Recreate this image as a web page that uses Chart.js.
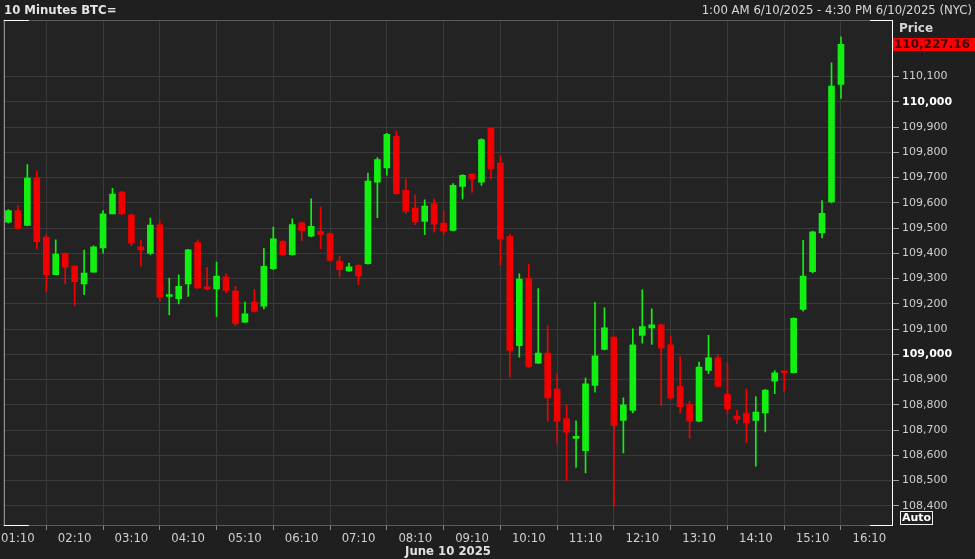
<!DOCTYPE html>
<html>
<head>
<meta charset="utf-8">
<title>10 Minutes BTC=</title>
<script src="https://cdn.jsdelivr.net/npm/chart.js@4.4.1/dist/chart.umd.min.js"></script>
<style>
  html, body { margin: 0; padding: 0; background: #1f1f1f; }
  #wrap { position: relative; width: 975px; height: 559px; overflow: hidden; }
  #chart { position: absolute; left: 0; top: 0; }
  .txt { position: absolute; white-space: nowrap; font-family: 'Liberation Sans Narrow', 'DejaVu Sans Condensed', sans-serif; font-stretch: condensed; }
  .sans { position: absolute; white-space: nowrap; font-family: 'DejaVu Sans', Verdana, sans-serif; }
  #hdrLeft { left: 4px; top: 2px; font-size: 13px; font-weight: bold; color: #e4e4e4; }
  #hdrRight { right: 3px; top: 2px; font-size: 13px; color: #d8d8d8; }
  #priceLbl { left: 899px; top: 21px; font-size: 12px; font-weight: bold; color: #d6d6d6; }
  #lastBadge { left: 893px; width: 82px; height: 13px; line-height: 13px; background: #ff0000; color: #3c0000; font-size: 12px; font-weight: bold; padding-left: 1px; box-sizing: border-box; }
  #autoBox { left: 900px; top: 511px; width: 33px; height: 14px; line-height: 12px; border: 1px solid #f0f0f0; box-sizing: border-box; color: #ffffff; font-size: 11px; font-weight: bold; text-align: center; }
  #dateLbl { left: 448px; top: 543px; transform: translateX(-50%); font-size: 13px; font-weight: bold; color: #e0e0e0; }
</style>
</head>
<body>
<div id="wrap">
  <canvas id="chart" width="975" height="559"></canvas>
  <div id="hdrLeft" class="txt">10 Minutes BTC=</div>
  <div id="hdrRight" class="txt">1:00 AM 6/10/2025 - 4:30 PM 6/10/2025 (NYC)</div>
  <div id="priceLbl" class="sans">Price</div>
  <div id="lastBadge" class="sans"></div>
  <div id="autoBox" class="sans">Auto</div>
  <div id="dateLbl" class="txt">June 10 2025</div>
</div>
<script>
// 10-minute candles, 6/10/2025
const timeLabels = [
  '01:00','01:10','01:20','01:30','01:40','01:50',
  '02:00','02:10','02:20','02:30','02:40','02:50',
  '03:00','03:10','03:20','03:30','03:40','03:50',
  '04:00','04:10','04:20','04:30','04:40','04:50',
  '05:00','05:10','05:20','05:30','05:40','05:50',
  '06:00','06:10','06:20','06:30','06:40','06:50',
  '07:00','07:10','07:20','07:30','07:40','07:50',
  '08:00','08:10','08:20','08:30','08:40','08:50',
  '09:00','09:10','09:20','09:30','09:40','09:50',
  '10:00','10:10','10:20','10:30','10:40','10:50',
  '11:00','11:10','11:20','11:30','11:40','11:50',
  '12:00','12:10','12:20','12:30','12:40','12:50',
  '13:00','13:10','13:20','13:30','13:40','13:50',
  '14:00','14:10','14:20','14:30','14:40','14:50',
  '15:00','15:10','15:20','15:30','15:40'
];

const openVals = [
  109523,109569,109510,109698,109463,109315,109400,109349,109279,109325,
  109421,109556,109642,109552,109426,109400,109513,109229,109220,109279,
  109442,109263,109259,109306,109250,109127,109207,109191,109339,109447,
  109395,109521,109468,109487,109478,109369,109330,109352,109359,109682,
  109738,109863,109649,109579,109526,109596,109520,109491,109665,109714,
  109682,109896,109757,109467,109034,109302,108965,109005,108862,108745,
  108667,108618,108877,109019,109068,108738,108778,109075,109104,109117,
  109038,108873,108801,108735,108936,108986,108841,108755,108767,108738,
  108768,108894,108931,108927,109178,109327,109481,109604,110069
];
const highVals = [
  109573,109589,109751,109727,109473,109453,109402,109352,109413,109430,
  109569,109657,109645,109555,109450,109540,109530,109302,109315,109416,
  109453,109343,109365,109319,109269,109207,109257,109420,109504,109450,
  109537,109525,109616,109583,109480,109388,109361,109355,109718,109779,
  109875,109884,109695,109632,109612,109616,109566,109676,109712,109716,
  109854,109898,109786,109476,109319,109357,109260,109113,108923,108800,
  108737,108906,109206,109184,109070,108828,109101,109255,109180,109120,
  109072,108991,108815,108969,109075,108998,108965,108778,108863,108833,
  108860,108936,108934,109144,109451,109488,109609,110154,110257
];
const lowVals = [
  109520,109496,109508,109417,109248,109315,109279,109193,109236,109325,
  109401,109556,109553,109430,109349,109396,109209,109156,109200,109229,
  109260,109255,109150,109244,109112,109125,109167,109180,109335,109392,
  109393,109451,109466,109418,109370,109306,109328,109276,109357,109541,
  109709,109633,109557,109513,109474,109484,109474,109489,109615,109641,
  109669,109695,109352,108909,108989,108948,108963,108734,108648,108499,
  108552,108530,108850,109017,108397,108609,108768,109044,109039,108797,
  108822,108768,108668,108732,108923,108870,108764,108725,108650,108557,
  108693,108844,108852,108925,109171,109322,109461,109600,110013
];
const closeVals = [
  109569,109499,109698,109446,109315,109397,109345,109288,109322,109426,
  109556,109635,109556,109440,109413,109512,109226,109236,109269,109414,
  109263,109259,109310,109253,109121,109160,109170,109348,109457,109395,
  109514,109490,109507,109475,109372,109335,109346,109309,109686,109771,
  109871,109636,109566,109524,109587,109515,109488,109669,109709,109694,
  109850,109734,109456,109015,109298,108952,109005,108827,108734,108692,
  108675,108883,108994,109105,108718,108800,109038,109110,109117,109024,
  108826,108793,108735,108949,108986,108873,108784,108742,108729,108771,
  108858,108927,108927,109142,109310,109485,109558,110062,110227.16
];

const xTickLabels = ['01:10','02:10','03:10','04:10','05:10','06:10','07:10','08:10',
  '09:10','10:10','11:10','12:10','13:10','14:10','15:10','16:10'];
const yTickValues = [108400,108500,108600,108700,108800,108900,109000,109100,109200,
  109300,109400,109500,109600,109700,109800,109900,110000,110100];

const UP = '#12ef12';
const DOWN = '#f20000';
const GRID = '#3a3a3a';
const NARROW = "'Liberation Sans Narrow', 'DejaVu Sans Condensed', sans-serif";
const SANS = "'DejaVu Sans', Verdana, sans-serif";

function toMin(s) {
  const p = s.split(':');
  return parseInt(p[0], 10) * 60 + parseInt(p[1], 10);
}

const xs = timeLabels.map(toMin);
const xTickValues = xTickLabels.map(toMin);
const colors = closeVals.map((c, i) => c >= openVals[i] ? UP : DOWN);

const wickData = xs.map((x, i) => ({ x: x, y: [lowVals[i], highVals[i]] }));
const bodyData = xs.map((x, i) => ({ x: x, y: [openVals[i], closeVals[i]] }));

const framePlugin = {
  id: 'frame',
  beforeDraw(chart) {
    const { ctx, chartArea: a } = chart;
    ctx.save();
    ctx.fillStyle = '#232323';
    ctx.fillRect(a.left, a.top, a.right - a.left, a.bottom - a.top);
    ctx.restore();
  },
  afterDraw(chart) {
    const { ctx, chartArea: a } = chart;
    ctx.save();
    ctx.lineWidth = 1;
    // grey top / bottom
    ctx.strokeStyle = '#5c5c5c';
    ctx.beginPath();
    ctx.moveTo(a.left, a.top + 0.5); ctx.lineTo(a.right, a.top + 0.5);
    ctx.moveTo(a.left, a.bottom - 0.5); ctx.lineTo(a.right, a.bottom - 0.5);
    ctx.stroke();
    // left side
    ctx.strokeStyle = '#a8a8a8';
    ctx.beginPath();
    ctx.moveTo(a.left + 0.5, a.top); ctx.lineTo(a.left + 0.5, a.bottom);
    ctx.stroke();
    // white right side and corner marks
    ctx.strokeStyle = '#ffffff';
    ctx.beginPath();
    ctx.moveTo(a.right - 0.5, a.top); ctx.lineTo(a.right - 0.5, a.bottom);
    ctx.moveTo(a.left, a.top + 0.5); ctx.lineTo(a.left + 25, a.top + 0.5);
    ctx.moveTo(a.right - 23, a.top + 0.5); ctx.lineTo(a.right, a.top + 0.5);
    ctx.moveTo(a.left, a.bottom - 0.5); ctx.lineTo(a.left + 25, a.bottom - 0.5);
    ctx.moveTo(a.right - 23, a.bottom - 0.5); ctx.lineTo(a.right, a.bottom - 0.5);
    ctx.stroke();
    ctx.restore();

    // last price badge
    const last = closeVals[closeVals.length - 1];
    const badge = document.getElementById('lastBadge');
    badge.textContent = last.toLocaleString('en-US', { minimumFractionDigits: 2, maximumFractionDigits: 2 });
    badge.style.top = (chart.scales.y.getPixelForValue(last) - 6.5) + 'px';
  }
};

new Chart(document.getElementById('chart'), {
  type: 'bar',
  data: {
    datasets: [
      {
        label: 'wick',
        data: wickData,
        backgroundColor: colors,
        barThickness: 1,
        grouped: false
      },
      {
        label: 'body',
        data: bodyData,
        backgroundColor: colors,
        barThickness: 6,
        minBarLength: 2,
        grouped: false
      }
    ]
  },
  options: {
    responsive: false,
    animation: false,
    devicePixelRatio: 1,
    layout: { padding: { top: 20, left: 3, right: 0, bottom: 0 } },
    plugins: {
      legend: { display: false },
      tooltip: { enabled: false }
    },
    scales: {
      x: {
        type: 'linear',
        min: 55.1,
        max: 995,
        offset: false,
        border: { display: false },
        grid: { color: GRID, tickColor: '#8a8a8a', tickLength: 4, drawTicks: true },
        afterBuildTicks(scale) {
          scale.ticks = xTickValues.map(v => ({ value: v }));
        },
        afterFit(scale) { scale.height = 33; },
        ticks: {
          autoSkip: false,
          maxRotation: 0,
          padding: 1,
          color: '#cfcfcf',
          font: { family: NARROW, size: 13 },
          callback: (value, index) => xTickLabels[index]
        }
      },
      y: {
        position: 'right',
        min: 108320,
        max: 110324,
        border: { display: false },
        grid: { color: GRID, tickColor: '#a0a0a0', tickLength: 6 },
        afterBuildTicks(scale) {
          scale.ticks = yTickValues.map(v => ({ value: v }));
        },
        afterFit(scale) { scale.width = 82; },
        ticks: {
          padding: 3,
          color: ctx => ctx.tick && ctx.tick.value % 1000 === 0 ? '#ffffff' : '#cfcfcf',
          font: ctx => ({
            family: SANS,
            size: 11,
            weight: ctx.tick && ctx.tick.value % 1000 === 0 ? 'bold' : 'normal'
          }),
          callback: value => value.toLocaleString('en-US')
        }
      }
    }
  },
  plugins: [framePlugin]
});
</script>
</body>
</html>
